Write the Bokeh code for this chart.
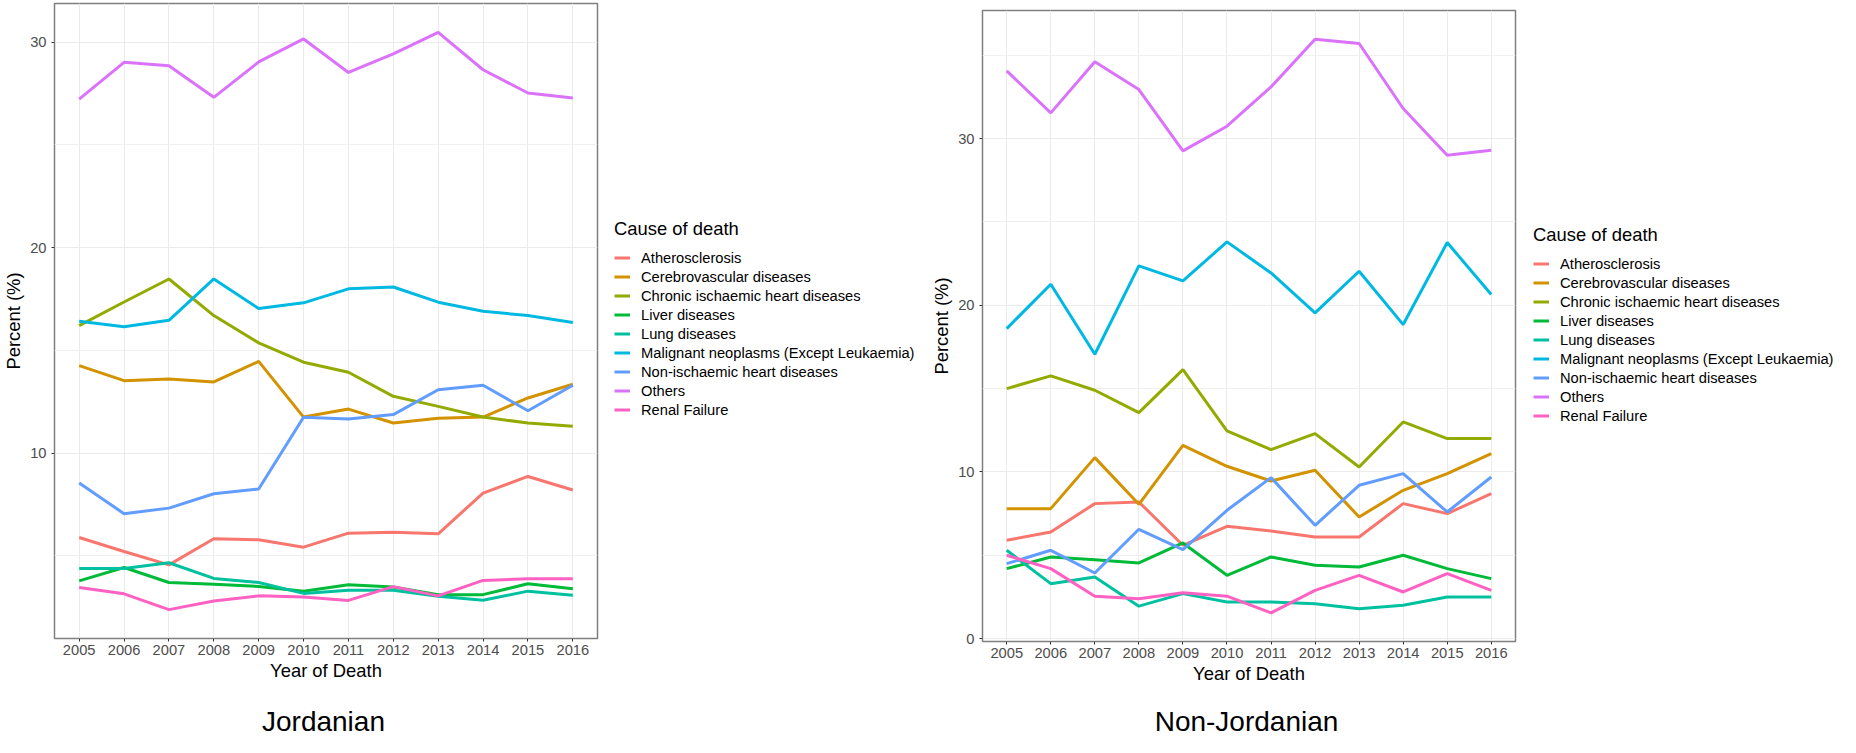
from bokeh.plotting import figure
from bokeh.models import Range1d, FixedTicker, Legend, LegendItem, Spacer
from bokeh.layouts import row, column
from bokeh.embed import file_html
from bokeh.resources import INLINE
from bokeh.core.properties import value

years = list(range(2005, 2017))
year_labels = [str(y) for y in years]
causes = ["Atherosclerosis", "Cerebrovascular diseases", "Chronic ischaemic heart diseases",
          "Liver diseases", "Lung diseases", "Malignant neoplasms (Except Leukaemia)",
          "Non-ischaemic heart diseases", "Others", "Renal Failure"]
colors = ["#F8766D", "#D39200", "#93AA00", "#00BA38", "#00C19F", "#00B9E3", "#619CFF", "#DB72FB", "#FF61C3"]

# Jordanian
jor_athero = [5.89, 5.21, 4.56, 5.83, 5.78, 5.42, 6.10, 6.15, 6.07, 8.05, 8.86, 8.20]
jor_cerebro = [14.25, 13.52, 13.60, 13.46, 14.46, 11.75, 12.14, 11.46, 11.69, 11.75, 12.68, 13.35]
jor_chronic = [16.20, 17.35, 18.47, 16.69, 15.36, 14.42, 13.93, 12.76, 12.27, 11.75, 11.46, 11.30]
jor_liver = [3.78, 4.43, 3.70, 3.62, 3.51, 3.27, 3.59, 3.48, 3.11, 3.11, 3.64, 3.40]
jor_lung = [4.38, 4.38, 4.66, 3.90, 3.70, 3.17, 3.32, 3.32, 3.03, 2.84, 3.28, 3.08]
jor_malig = [16.41, 16.14, 16.46, 18.47, 17.03, 17.31, 17.99, 18.08, 17.34, 16.90, 16.69, 16.35]
jor_nonisch = [8.54, 7.05, 7.32, 8.02, 8.25, 11.74, 11.66, 11.87, 13.08, 13.30, 12.06, 13.30]
jor_others = [27.22, 29.01, 28.85, 27.31, 29.03, 30.15, 28.52, 29.42, 30.47, 28.65, 27.52, 27.28]
jor_renal = [3.46, 3.15, 2.38, 2.80, 3.05, 3.00, 2.83, 3.50, 3.05, 3.80, 3.88, 3.88]

# Non-Jordanian
non_athero = [5.90, 6.40, 8.10, 8.20, 5.60, 6.74, 6.46, 6.10, 6.10, 8.10, 7.50, 8.70]
non_cerebro = [7.80, 7.80, 10.86, 8.06, 11.60, 10.34, 9.46, 10.10, 7.30, 8.90, 9.90, 11.10]
non_chronic = [15.00, 15.76, 14.90, 13.56, 16.14, 12.46, 11.34, 12.30, 10.30, 13.00, 12.00, 12.00]
non_liver = [4.20, 4.90, 4.74, 4.54, 5.74, 3.80, 4.90, 4.40, 4.30, 5.00, 4.20, 3.60]
non_lung = [5.30, 3.30, 3.70, 1.95, 2.70, 2.20, 2.20, 2.10, 1.80, 2.00, 2.50, 2.50]
non_malig = [18.60, 21.26, 17.06, 22.36, 21.46, 23.80, 21.94, 19.54, 22.04, 18.84, 23.76, 20.64]
non_nonisch = [4.50, 5.30, 3.94, 6.56, 5.34, 7.70, 9.66, 6.80, 9.20, 9.90, 7.60, 9.70]
non_others = [34.06, 31.54, 34.60, 32.94, 29.26, 30.74, 33.10, 35.96, 35.70, 31.80, 29.00, 29.30]
non_renal = [5.00, 4.20, 2.55, 2.40, 2.75, 2.55, 1.55, 2.90, 3.80, 2.80, 3.90, 2.90]

jor_series = [jor_athero, jor_cerebro, jor_chronic, jor_liver, jor_lung, jor_malig, jor_nonisch, jor_others, jor_renal]
non_series = [non_athero, non_cerebro, non_chronic, non_liver, non_lung, non_malig, non_nonisch, non_others, non_renal]

FONT = "Liberation Sans"


def make_panel(series, yticks, yminor, width, height, mbl, mbr, mbt, mbb):
    allv = [v for s in series for v in s]
    lo, hi = min(allv), max(allv)
    r = hi - lo
    y0, y1 = lo - 0.05 * r, hi + 0.05 * r
    p = figure(width=width, height=height, output_backend="svg", toolbar_location=None,
               x_range=Range1d(2004.45, 2016.55), y_range=Range1d(y0, y1),
               min_border_left=mbl, min_border_right=mbr, min_border_top=mbt,
               min_border_bottom=mbb)
    p.background_fill_color = "white"
    p.border_fill_color = "white"
    p.outline_line_color = "#7f7f7f"
    p.outline_line_width = 1.5

    p.xaxis.ticker = FixedTicker(ticks=years, minor_ticks=[])
    p.xaxis.major_label_overrides = {y: l for y, l in zip(years, year_labels)}
    p.yaxis.ticker = FixedTicker(ticks=yticks, minor_ticks=yminor)
    for ax in (p.xaxis[0], p.yaxis[0]):
        ax.axis_line_color = None
        ax.major_tick_in = 0
        ax.major_tick_out = 3
        ax.major_tick_line_color = "#333333"
        ax.minor_tick_line_color = None
        ax.major_label_text_font = FONT
        ax.major_label_text_font_size = "14.7px"
        ax.major_label_text_color = "#4D4D4D"
        ax.axis_label_text_font = FONT
        ax.axis_label_text_font_size = "18.4px"
        ax.axis_label_text_font_style = "normal"
        ax.axis_label_text_color = "black"
    p.xaxis.axis_label = "Year of Death"
    p.yaxis.axis_label = "Percent (%)"
    p.xaxis.major_label_standoff = 3
    p.xaxis.axis_label_standoff = 2
    p.yaxis.major_label_standoff = 4
    p.yaxis.axis_label_standoff = 3

    p.xgrid.grid_line_color = "#EBEBEB"
    p.ygrid.grid_line_color = "#EBEBEB"
    p.ygrid.minor_grid_line_color = "#F0F0F0"

    for col, vals in zip(colors, series):
        p.line(years, vals, line_color=col, line_width=3)
    return p


def make_legend(series, width, height, left):
    lp = figure(width=width, height=height, output_backend="svg", toolbar_location=None,
                x_range=Range1d(0, 1), y_range=Range1d(0, 1),
                x_axis_type=None, y_axis_type=None,
                min_border_left=left, min_border_right=0, min_border_top=0, min_border_bottom=0)
    lp.outline_line_color = None
    lp.grid.visible = False
    lp.background_fill_color = "white"
    lp.border_fill_color = "white"
    items = []
    for name, col, vals in zip(causes, colors, series):
        # drawn outside this figure's ranges: only the legend key shows
        rr = lp.line(years, vals, line_color=col, line_width=3)
        items.append(LegendItem(label=name, renderers=[rr]))
    leg = Legend(items=items, title="Cause of death", location="top_left",
                 margin=0, padding=0, border_line_color=None,
                 background_fill_alpha=0, glyph_width=16, glyph_height=17,
                 label_height=17, spacing=2, label_standoff=11, title_standoff=9)
    leg.title_text_font = FONT
    leg.title_text_font_size = "18.4px"
    leg.title_text_font_style = "normal"
    leg.title_text_color = "black"
    leg.label_text_font = FONT
    leg.label_text_font_size = "14.7px"
    leg.label_text_color = "black"
    lp.add_layout(leg)
    return lp


def make_caption(text, width, height, ypos):
    cf = figure(width=width, height=height, output_backend="svg", toolbar_location=None,
                x_range=Range1d(0, 1), y_range=Range1d(0, 1),
                x_axis_type=None, y_axis_type=None,
                min_border_left=0, min_border_right=0, min_border_top=0, min_border_bottom=0)
    cf.outline_line_color = None
    cf.grid.visible = False
    cf.background_fill_color = "white"
    cf.border_fill_color = "white"
    cf.text(x=[0.5], y=[ypos], text=[text], text_align="center", text_baseline="middle",
            text_font=value(FONT), text_font_size="28px", text_color="black")
    return cf


# left panel: frame 548 x 635 at (57, 11)
p1 = make_panel(jor_series, [10, 20, 30], [5, 15, 25],
                width=599, height=690, mbl=49, mbr=2, mbt=3, mbb=52)
lp1 = make_legend(jor_series, 329, 215, 15)
# right panel: frame 538 x 631 at (985, 18)
p2 = make_panel(non_series, [0, 10, 20, 30], [5, 15, 25, 35],
                width=589, height=683, mbl=49, mbr=2, mbt=3, mbb=49)
lp2 = make_legend(non_series, 323, 215, 16)

top = row(p1, column(Spacer(height=218), lp1),
          column(Spacer(height=7), p2), column(Spacer(height=224), lp2))

cap_h = 47
c1 = make_caption("Jordanian", 548, cap_h, 16 / cap_h)
c2 = make_caption("Non-Jordanian", 538, cap_h, 16 / cap_h)
bottom = row(Spacer(width=49), c1, Spacer(width=2 + 329 + 49), c2)

layout = column(top, bottom)
open("out.html", "w").write(file_html(layout, INLINE))
